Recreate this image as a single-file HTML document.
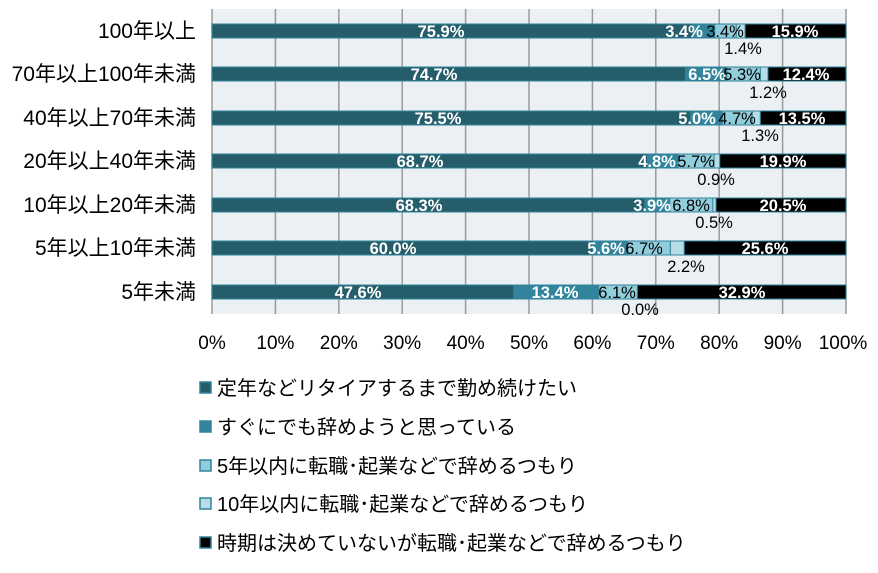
<!DOCTYPE html>
<html><head><meta charset="utf-8"><style>
body{margin:0;background:#fff;}
svg{display:block;font-family:"Liberation Sans","Noto Sans CJK JP",sans-serif;}
.w{fill:#fff;font-weight:bold;font-size:16.5px;text-anchor:middle}
.d{fill:#000;font-size:16.5px;text-anchor:middle}
.c{font-size:21px;text-anchor:end;fill:#000}
.x{font-size:19px;text-anchor:middle;fill:#000}
.l{font-size:20px;fill:#000}
</style></head><body>
<svg width="878" height="573" viewBox="0 0 878 573">
<rect x="212" y="9" width="634" height="305" fill="#eaf0f4"/>
<g stroke="#999" stroke-width="1.5">
<line x1="212" y1="9" x2="212" y2="314"/><line x1="275.4" y1="9" x2="275.4" y2="314"/><line x1="338.8" y1="9" x2="338.8" y2="314"/><line x1="402.2" y1="9" x2="402.2" y2="314"/><line x1="465.6" y1="9" x2="465.6" y2="314"/><line x1="529" y1="9" x2="529" y2="314"/><line x1="592.4" y1="9" x2="592.4" y2="314"/><line x1="655.8" y1="9" x2="655.8" y2="314"/><line x1="719.2" y1="9" x2="719.2" y2="314"/><line x1="782.6" y1="9" x2="782.6" y2="314"/><line x1="846" y1="9" x2="846" y2="314"/>
</g>
<g stroke="#31849b" stroke-width="1">
<rect x="212" y="24" width="481.2" height="14" fill="#255e6a"/><rect x="693.2" y="24" width="21.6" height="14" fill="#31849b"/><rect x="714.8" y="24" width="21.5" height="14" fill="#92cddc"/><rect x="736.3" y="24" width="8.9" height="14" fill="#b7dee8"/><rect x="745.2" y="24" width="100.8" height="14" fill="#000"/>
<rect x="212" y="67" width="473.6" height="14" fill="#255e6a"/><rect x="685.6" y="67" width="41.2" height="14" fill="#31849b"/><rect x="726.8" y="67" width="33.6" height="14" fill="#92cddc"/><rect x="760.4" y="67" width="7.6" height="14" fill="#b7dee8"/><rect x="768" y="67" width="78" height="14" fill="#000"/>
<rect x="212" y="111" width="478.7" height="14" fill="#255e6a"/><rect x="690.7" y="111" width="31.7" height="14" fill="#31849b"/><rect x="722.4" y="111" width="29.8" height="14" fill="#92cddc"/><rect x="752.2" y="111" width="8.2" height="14" fill="#b7dee8"/><rect x="760.4" y="111" width="85.6" height="14" fill="#000"/>
<rect x="212" y="154" width="435.6" height="14" fill="#255e6a"/><rect x="647.6" y="154" width="30.4" height="14" fill="#31849b"/><rect x="678" y="154" width="36.1" height="14" fill="#92cddc"/><rect x="714.1" y="154" width="5.7" height="14" fill="#b7dee8"/><rect x="719.8" y="154" width="126.2" height="14" fill="#000"/>
<rect x="212" y="198" width="433" height="14" fill="#255e6a"/><rect x="645" y="198" width="24.7" height="14" fill="#31849b"/><rect x="669.7" y="198" width="43.2" height="14" fill="#92cddc"/><rect x="712.9" y="198" width="3.1" height="14" fill="#b7dee8"/><rect x="716" y="198" width="130" height="14" fill="#000"/>
<rect x="212" y="241" width="380.4" height="14" fill="#255e6a"/><rect x="592.4" y="241" width="35.5" height="14" fill="#31849b"/><rect x="627.9" y="241" width="42.5" height="14" fill="#92cddc"/><rect x="670.4" y="241" width="13.9" height="14" fill="#b7dee8"/><rect x="684.3" y="241" width="161.7" height="14" fill="#000"/>
<rect x="212" y="285" width="301.8" height="14" fill="#255e6a"/><rect x="513.8" y="285" width="84.9" height="14" fill="#31849b"/><rect x="598.7" y="285" width="38.7" height="14" fill="#92cddc"/><rect x="637.4" y="285" width="208.6" height="14" fill="#000"/>
</g>
<g>
<text class="w" x="441" y="37">75.9%</text><text class="w" x="684" y="37">3.4%</text><text class="d" x="725" y="37">3.4%</text><text class="w" x="795" y="37">15.9%</text><text class="d" x="743" y="54">1.4%</text>
<text class="w" x="434" y="80">74.7%</text><text class="w" x="707" y="80">6.5%</text><text class="d" x="742" y="80">5.3%</text><text class="w" x="806" y="80">12.4%</text><text class="d" x="768" y="98">1.2%</text>
<text class="w" x="438" y="124">75.5%</text><text class="w" x="697" y="124">5.0%</text><text class="d" x="737" y="124">4.7%</text><text class="w" x="802" y="124">13.5%</text><text class="d" x="760" y="141">1.3%</text>
<text class="w" x="420" y="167">68.7%</text><text class="w" x="657" y="167">4.8%</text><text class="d" x="696" y="167">5.7%</text><text class="w" x="783" y="167">19.9%</text><text class="d" x="716" y="185">0.9%</text>
<text class="w" x="419" y="211">68.3%</text><text class="w" x="652" y="211">3.9%</text><text class="d" x="691" y="211">6.8%</text><text class="w" x="783" y="211">20.5%</text><text class="d" x="714" y="228">0.5%</text>
<text class="w" x="393" y="254">60.0%</text><text class="w" x="606" y="254">5.6%</text><text class="d" x="644" y="254">6.7%</text><text class="w" x="765" y="254">25.6%</text><text class="d" x="686" y="272">2.2%</text>
<text class="w" x="358" y="298">47.6%</text><text class="w" x="555" y="298">13.4%</text><text class="d" x="617" y="298">6.1%</text><text class="w" x="742" y="298">32.9%</text><text class="d" x="640" y="315">0.0%</text>
</g>
<g>
<text class="c" x="196" y="38">100年以上</text>
<text class="c" x="196" y="81">70年以上100年未満</text>
<text class="c" x="196" y="125">40年以上70年未満</text>
<text class="c" x="196" y="168">20年以上40年未満</text>
<text class="c" x="196" y="212">10年以上20年未満</text>
<text class="c" x="196" y="255">5年以上10年未満</text>
<text class="c" x="196" y="299">5年未満</text>
</g>
<g>
<text class="x" x="212" y="349">0%</text><text class="x" x="275.4" y="349">10%</text><text class="x" x="338.8" y="349">20%</text><text class="x" x="402.2" y="349">30%</text><text class="x" x="465.6" y="349">40%</text><text class="x" x="529" y="349">50%</text><text class="x" x="592.4" y="349">60%</text><text class="x" x="655.8" y="349">70%</text><text class="x" x="719.2" y="349">80%</text><text class="x" x="782.6" y="349">90%</text><text class="x" x="843" y="349">100%</text>
</g>
<g stroke="#31849b" stroke-width="1.5">
<rect x="200" y="382" width="11" height="11" fill="#255e6a"/>
<rect x="200" y="421" width="11" height="11" fill="#31849b"/>
<rect x="200" y="460" width="11" height="11" fill="#92cddc"/>
<rect x="200" y="498" width="11" height="11" fill="#b7dee8"/>
<rect x="200" y="537" width="11" height="11" fill="#000"/>
</g>
<g>
<text class="l" x="217" y="395">定年などリタイアするまで勤め続けたい</text>
<text class="l" x="217" y="434">すぐにでも辞めようと思っている</text>
<text class="l" x="217" y="473">5年以内に転職･起業などで辞めるつもり</text>
<text class="l" x="217" y="511">10年以内に転職･起業などで辞めるつもり</text>
<text class="l" x="217" y="550">時期は決めていないが転職･起業などで辞めるつもり</text>
</g>
</svg>
</body></html>
